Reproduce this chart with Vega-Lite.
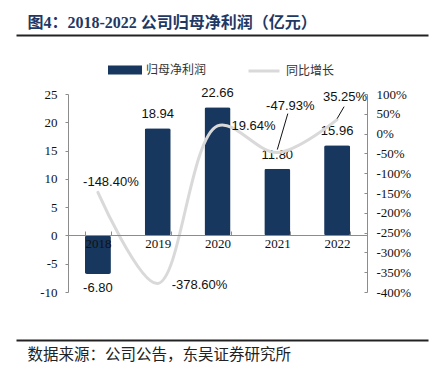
{
  "$schema": "https://vega.github.io/schema/vega-lite/v6.json",
  "width": 412,
  "height": 305,
  "autosize": {"type": "none"},
  "padding": {"left": 16, "top": 35, "right": 1, "bottom": 35},
  "background": "white",
  "config": {"view": {"stroke": null}, "axis": {"grid": false, "labelOverlap": false}},
  "data": {
    "values": [
      {"year": "2018", "profit": -6.80, "growth": -148.40},
      {"year": "2019", "profit": 18.94, "growth": -378.60},
      {"year": "2020", "profit": 22.66, "growth": 19.64},
      {"year": "2021", "profit": 11.80, "growth": -47.93},
      {"year": "2022", "profit": 15.96, "growth": 35.25}
    ]
  },
  "layer": [
    {
      "layer": [
        {
          "transform": [{"calculate": "replace(format(datum.profit, '.2f'), '\u2212', '-')", "as": "plabel"}],
          "layer": [
            {
              "mark": {"type": "bar", "cornerRadius": 2},
              "encoding": {
                "x": {
                  "field": "year", "type": "nominal",
                  "scale": {"range": [52, 351], "paddingInner": 0.565, "paddingOuter": 0.2825},
                  "axis": {
                    "orient": "bottom", "offset": -105, "title": null, "zindex": 1,
                    "domainColor": "#8c8c8c", "domainWidth": 1,
                    "tickColor": "#8c8c8c", "tickSize": -4, "tickBand": "extent",
                    "labelFont": "Liberation Serif", "labelFontSize": 13, "labelColor": "#111",
                    "labelPadding": 6, "labelAngle": 0, "labelOverlap": false
                  }
                },
                "y": {
                  "field": "profit", "type": "quantitative",
                  "scale": {"domain": [-10, 25], "range": [257, 59], "nice": false, "zero": false},
                  "axis": {
                    "orient": "left", "offset": -52, "title": null,
                    "values": [-10, -5, 0, 5, 10, 15, 20, 25], "tickCount": 12,
                    "labelExpr": "replace(datum.label, '\u2212', '-')",
                    "domainColor": "#8c8c8c", "tickColor": "#8c8c8c", "tickSize": 3,
                    "labelPadding": 8, "labelFont": "Liberation Serif", "labelFontSize": 13, "labelColor": "#111",
                    "labelOverlap": false
                  }
                },
                "fill": {
                  "datum": "归母净利润",
                  "scale": {"range": ["#17375e"]},
                  "legend": {
                    "orient": "none", "legendX": 92, "legendY": 18, "title": null, "padding": 0,
                    "symbolType": "M-1,-0.26H1V0.26H-1Z", "symbolSize": 1156, "symbolStrokeWidth": 0,
                    "labelFont": "Noto Sans CJK SC", "labelFontSize": 12, "labelColor": "#333", "labelOffset": 4
                  }
                }
              }
            },
            {
              "transform": [{"filter": "datum.profit >= 0"}],
              "mark": {"type": "text", "dy": -14, "font": "Liberation Sans", "fontSize": 13, "color": "#111"},
              "encoding": {
                "x": {"field": "year", "type": "nominal", "title": null},
                "y": {"field": "profit", "type": "quantitative", "title": null},
                "text": {"field": "plabel"}
              }
            },
            {
              "transform": [{"filter": "datum.profit < 0"}],
              "mark": {"type": "text", "dy": 14.5, "font": "Liberation Sans", "fontSize": 13, "color": "#111"},
              "encoding": {
                "x": {"field": "year", "type": "nominal", "title": null},
                "y": {"field": "profit", "type": "quantitative", "title": null},
                "text": {"field": "plabel"}
              }
            }
          ]
        },
        {
          "transform": [{"calculate": "replace(format(datum.growth, '.2f'), '\u2212', '-') + '%'", "as": "glabel"}],
          "layer": [
            {
              "mark": {"type": "line", "interpolate": "catmull-rom", "strokeWidth": 3, "strokeCap": "round"},
              "encoding": {
                "x": {"field": "year", "type": "nominal", "title": null},
                "y": {
                  "field": "growth", "type": "quantitative",
                  "scale": {"domain": [-400, 100], "range": [257, 59], "nice": false, "zero": false},
                  "axis": {
                    "orient": "right", "offset": -61, "title": null,
                    "values": [-400, -350, -300, -250, -200, -150, -100, -50, 0, 50, 100],
                    "tickCount": 12,
                    "labelExpr": "replace(toString(datum.value), '\u2212', '-') + '%'",
                    "domainColor": "#8c8c8c", "tickColor": "#8c8c8c", "tickSize": -3,
                    "labelPadding": 12, "labelFont": "Liberation Serif", "labelFontSize": 13, "labelColor": "#111",
                    "labelOverlap": false
                  }
                },
                "stroke": {
                  "datum": "同比增长",
                  "scale": {"range": ["#d9d9d9"]},
                  "legend": {
                    "orient": "none", "legendX": 231, "legendY": 19, "title": null, "padding": 0,
                    "symbolType": "stroke", "symbolSize": 961, "symbolStrokeWidth": 3,
                    "labelFont": "Noto Sans CJK SC", "labelFontSize": 12, "labelColor": "#333", "labelOffset": 5
                  }
                }
              }
            },
            {
              "transform": [{"filter": "datum.year == '2018'"}],
              "mark": {"type": "text", "align": "center", "dx": 13, "dy": -10, "font": "Liberation Sans", "fontSize": 13, "color": "#111"},
              "encoding": {
                "x": {"field": "year", "type": "nominal", "title": null},
                "y": {"field": "growth", "type": "quantitative", "title": null},
                "text": {"field": "glabel"}
              }
            },
            {
              "transform": [{"filter": "datum.year == '2019'"}],
              "mark": {"type": "text", "align": "left", "dx": 14, "dy": 1.5, "font": "Liberation Sans", "fontSize": 13, "color": "#111"},
              "encoding": {
                "x": {"field": "year", "type": "nominal", "title": null},
                "y": {"field": "growth", "type": "quantitative", "title": null},
                "text": {"field": "glabel"}
              }
            },
            {
              "transform": [{"filter": "datum.year == '2020'"}],
              "mark": {"type": "text", "align": "left", "dx": 14, "dy": 0, "font": "Liberation Sans", "fontSize": 13, "color": "#111"},
              "encoding": {
                "x": {"field": "year", "type": "nominal", "title": null},
                "y": {"field": "growth", "type": "quantitative", "title": null},
                "text": {"field": "glabel"}
              }
            },
            {
              "transform": [{"filter": "datum.year == '2021'"}],
              "mark": {"type": "text", "align": "center", "dx": 13, "dy": -47, "font": "Liberation Sans", "fontSize": 13, "color": "#111"},
              "encoding": {
                "x": {"field": "year", "type": "nominal", "title": null},
                "y": {"field": "growth", "type": "quantitative", "title": null},
                "text": {"field": "glabel"}
              }
            },
            {
              "transform": [{"filter": "datum.year == '2022'"}],
              "mark": {"type": "text", "align": "center", "dx": 8, "dy": -23, "font": "Liberation Sans", "fontSize": 13, "color": "#111"},
              "encoding": {
                "x": {"field": "year", "type": "nominal", "title": null},
                "y": {"field": "growth", "type": "quantitative", "title": null},
                "text": {"field": "glabel"}
              }
            },
            {
              "transform": [{"filter": "datum.year == '2021'"}],
              "mark": {"type": "rule", "color": "#111", "strokeWidth": 1, "yOffset": -3, "x2Offset": 10.5, "y2Offset": -39},
              "encoding": {
                "x": {"field": "year", "type": "nominal", "title": null, "bandPosition": 0.5},
                "x2": {"field": "year", "bandPosition": 0.5},
                "y": {"field": "growth", "type": "quantitative", "title": null},
                "y2": {"field": "growth"}
              }
            },
            {
              "transform": [{"filter": "datum.year == '2022'"}],
              "mark": {"type": "rule", "color": "#111", "strokeWidth": 1, "yOffset": -1, "x2Offset": 7, "y2Offset": -13},
              "encoding": {
                "x": {"field": "year", "type": "nominal", "title": null, "bandPosition": 0.5},
                "x2": {"field": "year", "bandPosition": 0.5},
                "y": {"field": "growth", "type": "quantitative", "title": null},
                "y2": {"field": "growth"}
              }
            }
          ]
        }
      ],
      "resolve": {"scale": {"y": "independent"}}
    },
    {
      "mark": {"type": "text", "text": ""},
      "encoding": {
        "x": {
          "datum": 0, "type": "quantitative",
          "scale": {"domain": [0, 1], "range": [0, 412], "nice": false, "zero": false},
          "axis": {
            "orient": "top", "domainColor": "#222", "domainWidth": 2, "ticks": false, "labels": false, "grid": false,
            "title": "图4：2018-2022 公司归母净利润（亿元）",
            "titleX": 11, "titleY": -8, "titleAlign": "left", "titleAnchor": null, "titleBaseline": "alphabetic", "titleAngle": 0,
            "titleFont": "'Liberation Serif', 'Noto Sans CJK SC'", "titleFontSize": 16, "titleFontWeight": "bold", "titleColor": "#1f3864"
          }
        }
      }
    },
    {
      "mark": {"type": "text", "text": ""},
      "encoding": {
        "x": {
          "datum": 0, "type": "quantitative",
          "scale": {"domain": [0, 1], "range": [0, 412], "nice": false, "zero": false},
          "axis": {
            "orient": "bottom", "domainColor": "#222", "domainWidth": 2, "ticks": false, "labels": false, "grid": false,
            "title": "数据来源：公司公告，东吴证券研究所",
            "titleX": 11, "titleY": 19, "titleAlign": "left", "titleAnchor": null, "titleBaseline": "alphabetic", "titleAngle": 0,
            "titleFont": "Noto Sans CJK SC", "titleFontSize": 15.5, "titleFontWeight": "normal", "titleColor": "#222"
          }
        }
      }
    }
  ],
  "resolve": {"scale": {"x": "independent", "y": "independent"}}
}
